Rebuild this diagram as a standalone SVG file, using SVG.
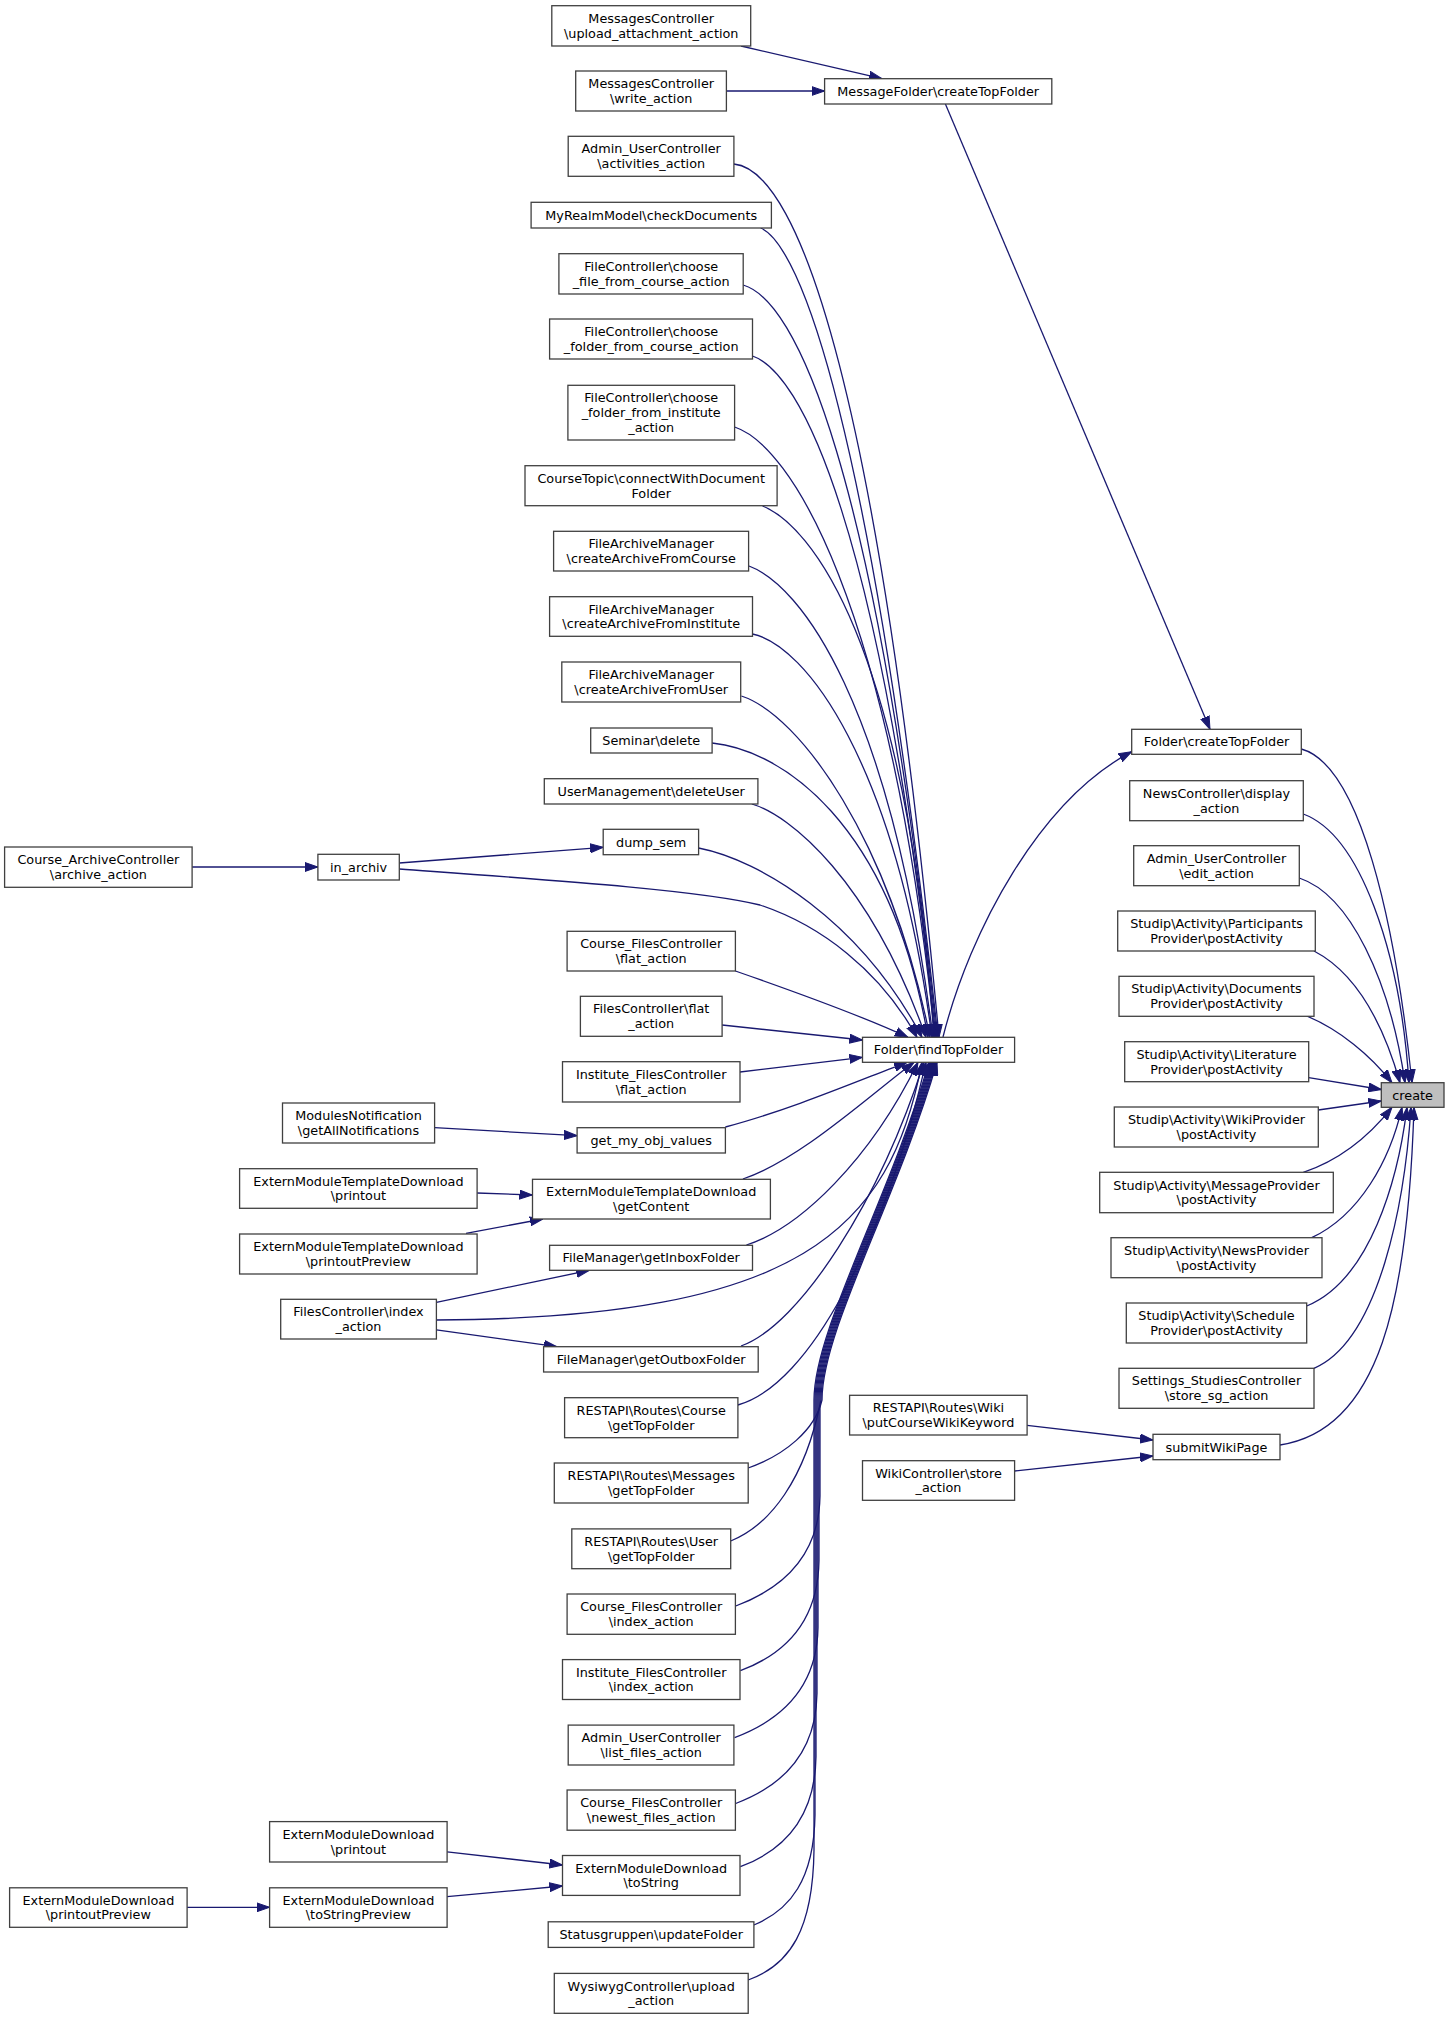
<svg xmlns="http://www.w3.org/2000/svg" width="1449" height="2019" viewBox="0 0 1449 2019">
<style>
.node rect{fill:#ffffff;stroke:#404040;stroke-width:1.3}
.node text{font-family:"DejaVu Sans",sans-serif;font-size:12.8px;text-anchor:middle;fill:#000000}
#n_create rect{fill:#bfbfbf}
.edges path{fill:none;stroke:#191970;stroke-width:1.3;marker-end:url(#arr)}
</style>
<defs>
<marker id="arr" viewBox="0 0 13 10" refX="13" refY="5" markerWidth="13" markerHeight="10" orient="auto" markerUnits="userSpaceOnUse">
<path d="M0,0.5 L13,5 L0,9.5 z" fill="#191970" stroke="#191970" stroke-width="1"/>
</marker>
</defs>
<rect x="0" y="0" width="1449" height="2019" fill="#ffffff"/>
<g class="edges">
<path d="M741,46 L882,78.7"/>
<path d="M726.4,91 L824.6,91"/>
<path d="M945.4,104 L1210,729.3"/>
<path d="M943,1037 C970,930 1040,800 1131.7,751.7"/>
<path d="M1301.3,749 C1360,765 1395,920 1412,1082.7"/>
<path d="M1303.3,814 C1360,835 1400,950 1409,1082.7"/>
<path d="M1299.3,878 C1350,895 1390,980 1405,1082.7"/>
<path d="M1314,951 C1360,975 1385,1030 1400,1082.7"/>
<path d="M1306.7,1016 C1340,1030 1370,1055 1392,1082.7"/>
<path d="M1308.7,1077.7 L1381.3,1089.5"/>
<path d="M1318.3,1110 L1381.3,1101"/>
<path d="M1303.3,1172.3 C1340,1160 1370,1135 1392,1107.3"/>
<path d="M1311.7,1237.7 C1360,1215 1390,1160 1402,1107.3"/>
<path d="M1306.7,1306 C1370,1280 1398,1180 1407,1107.3"/>
<path d="M1314,1368.3 C1380,1340 1405,1200 1411,1107.3"/>
<path d="M1280,1445 C1380,1430 1408,1300 1414,1107.3"/>
<path d="M733.9,164 C800,170 880,400 939,1037.3"/>
<path d="M760.7,228 C800,245 870,420 938,1037.3"/>
<path d="M743.2,285 C795,300 875,460 937,1037.3"/>
<path d="M752.5,356 C800,372 880,520 936,1037.3"/>
<path d="M734.6,427 C790,445 890,600 935,1037.3"/>
<path d="M762.5,506 C810,525 905,640 934,1037.3"/>
<path d="M749,566 C800,585 890,700 933,1037.3"/>
<path d="M752.5,634 C805,645 895,760 932,1037.3"/>
<path d="M741.4,696 C800,715 890,840 930,1037.3"/>
<path d="M712.1,743 C780,750 890,820 928,1037.3"/>
<path d="M751.8,804 C790,815 870,880 926,1037.3"/>
<path d="M698.6,848 C760,860 860,920 922,1037.3"/>
<path d="M399.3,869 C550,880 700,890 760,905 C820,925 880,970 917,1037.3"/>
<path d="M735.4,971 C790,990 860,1015 908,1037.3"/>
<path d="M722.1,1025 L862.5,1040"/>
<path d="M740,1072 L862.5,1057.3"/>
<path d="M725.4,1127 C790,1110 860,1080 907,1062.3"/>
<path d="M742.9,1179 C800,1160 870,1095 914,1062.3"/>
<path d="M746.4,1245 C800,1228 870,1160 918,1062.3"/>
<path d="M436.4,1320 C800,1318 890,1230 922,1062.3"/>
<path d="M741,1346 C800,1325 880,1200 924,1062.3"/>
<path d="M737.9,1405 C810,1385 885,1240 926,1062.3"/>
<path d="M748.2,1468 C785,1455 815,1430 822,1400 C822,1330 897,1200 937,1062.3"/>
<path d="M730.7,1541 C770,1525 805,1480 821,1400 C821,1330 896,1200 936,1062.3"/>
<path d="M735.7,1606 C775.7,1591 819,1561 820,1496 L820,1400 C820,1330 895,1200 935,1062.3"/>
<path d="M740.4,1670.7 C780.4,1655.7 818,1625.7 819,1560.7 L819,1400 C819,1330 894,1200 934,1062.3"/>
<path d="M734.6,1737.6 C774.6,1722.6 817,1692.6 818,1627.6 L818,1400 C818,1330 893,1200 933,1062.3"/>
<path d="M735.7,1803.5 C775.7,1788.5 816,1758.5 817,1693.5 L817,1400 C817,1330 892,1200 932,1062.3"/>
<path d="M740.4,1866.7 C780.4,1851.7 815,1821.7 816,1756.7 L816,1400 C816,1330 891,1200 931,1062.3"/>
<path d="M753.9,1925 C790,1910 814,1880 815,1815 L815,1400 C815,1330 890,1200 930,1062.3"/>
<path d="M748.2,1980 C790,1965 813,1930 814,1850 L814,1400 C814,1330 889,1200 929,1062.3"/>
<path d="M192.1,867 L317.9,867"/>
<path d="M399.3,863 L603.2,847.3"/>
<path d="M434.6,1127.7 L577.1,1135.7"/>
<path d="M477.1,1193 L532.5,1195"/>
<path d="M466,1233.3 L542.9,1219"/>
<path d="M436.4,1302.3 L589.3,1270.3"/>
<path d="M436.4,1329.8 L557,1346.7"/>
<path d="M447.1,1851.8 L562.5,1865"/>
<path d="M447.1,1896.7 L562.5,1886"/>
<path d="M187.1,1907.3 L269.6,1907.3"/>
<path d="M1027.1,1425.3 L1153,1440"/>
<path d="M1014.6,1471 L1153,1456"/>
</g>
<g id="n_upload" class="node"><rect x="551.8" y="5.7" width="198.9" height="40.3"/><text x="651.2" y="23">MessagesController</text><text x="651.2" y="37.7">\upload_attachment_action</text></g>
<g id="n_write" class="node"><rect x="575.7" y="71" width="150.7" height="40"/><text x="651.2" y="88.15">MessagesController</text><text x="651.2" y="102.85">\write_action</text></g>
<g id="n_activities" class="node"><rect x="568.2" y="136.3" width="165.7" height="40"/><text x="651.2" y="153.45">Admin_UserController</text><text x="651.2" y="168.15">\activities_action</text></g>
<g id="n_checkdocs" class="node"><rect x="531.1" y="202.3" width="240.3" height="25.7"/><text x="651.2" y="219.65">MyRealmModel\checkDocuments</text></g>
<g id="n_choosefile" class="node"><rect x="558.9" y="253.7" width="184.3" height="40.3"/><text x="651.2" y="271">FileController\choose</text><text x="651.2" y="285.7">_file_from_course_action</text></g>
<g id="n_choosefoldercourse" class="node"><rect x="549.6" y="319" width="202.9" height="40"/><text x="651.2" y="336.15">FileController\choose</text><text x="651.2" y="350.85">_folder_from_course_action</text></g>
<g id="n_choosefolderinst" class="node"><rect x="567.9" y="385.3" width="166.7" height="54.7"/><text x="651.2" y="402.45">FileController\choose</text><text x="651.2" y="417.15">_folder_from_institute</text><text x="651.2" y="431.85">_action</text></g>
<g id="n_coursetopic" class="node"><rect x="525" y="465.7" width="252.1" height="40"/><text x="651.2" y="482.85">CourseTopic\connectWithDocument</text><text x="651.2" y="497.55">Folder</text></g>
<g id="n_archcourse" class="node"><rect x="553.6" y="531.3" width="195" height="39.7"/><text x="651.2" y="548.3">FileArchiveManager</text><text x="651.2" y="563">\createArchiveFromCourse</text></g>
<g id="n_archinst" class="node"><rect x="549.6" y="596.7" width="202.9" height="39.6"/><text x="651.2" y="613.65">FileArchiveManager</text><text x="651.2" y="628.35">\createArchiveFromInstitute</text></g>
<g id="n_archuser" class="node"><rect x="561.8" y="662" width="178.9" height="40"/><text x="651.2" y="679.15">FileArchiveManager</text><text x="651.2" y="693.85">\createArchiveFromUser</text></g>
<g id="n_semdelete" class="node"><rect x="590.7" y="728" width="121.4" height="25"/><text x="651.2" y="745">Seminar\delete</text></g>
<g id="n_deleteuser" class="node"><rect x="544.3" y="778.7" width="213.6" height="25.3"/><text x="651.2" y="795.85">UserManagement\deleteUser</text></g>
<g id="n_dumpsem" class="node"><rect x="603.2" y="829.3" width="95.4" height="25.4"/><text x="651.2" y="846.5">dump_sem</text></g>
<g id="n_cfflat" class="node"><rect x="567.1" y="931.3" width="168.3" height="39.7"/><text x="651.2" y="948.3">Course_FilesController</text><text x="651.2" y="963">\flat_action</text></g>
<g id="n_fcflat" class="node"><rect x="580.4" y="996.3" width="141.7" height="40"/><text x="651.2" y="1013.45">FilesController\flat</text><text x="651.2" y="1028.15">_action</text></g>
<g id="n_ifflat" class="node"><rect x="562.5" y="1061.7" width="177.5" height="40.3"/><text x="651.2" y="1079">Institute_FilesController</text><text x="651.2" y="1093.7">\flat_action</text></g>
<g id="n_getmyobj" class="node"><rect x="577.1" y="1127.7" width="148.3" height="25.3"/><text x="651.2" y="1144.85">get_my_obj_values</text></g>
<g id="n_getcontent" class="node"><rect x="532.5" y="1179.3" width="237.9" height="39.7"/><text x="651.2" y="1196.3">ExternModuleTemplateDownload</text><text x="651.2" y="1211">\getContent</text></g>
<g id="n_inbox" class="node"><rect x="549.6" y="1245.3" width="202.9" height="25"/><text x="651.2" y="1262.3">FileManager\getInboxFolder</text></g>
<g id="n_outbox" class="node"><rect x="543.6" y="1346.7" width="214.6" height="25.3"/><text x="651.2" y="1363.85">FileManager\getOutboxFolder</text></g>
<g id="n_rcourse" class="node"><rect x="564.6" y="1397.7" width="173.3" height="40"/><text x="651.2" y="1414.85">RESTAPI\Routes\Course</text><text x="651.2" y="1429.55">\getTopFolder</text></g>
<g id="n_rmessages" class="node"><rect x="554.3" y="1463" width="193.9" height="40"/><text x="651.2" y="1480.15">RESTAPI\Routes\Messages</text><text x="651.2" y="1494.85">\getTopFolder</text></g>
<g id="n_ruser" class="node"><rect x="571.8" y="1528.9" width="158.9" height="39.8"/><text x="651.2" y="1545.95">RESTAPI\Routes\User</text><text x="651.2" y="1560.65">\getTopFolder</text></g>
<g id="n_cfindex" class="node"><rect x="567.1" y="1594" width="168.3" height="40.3"/><text x="651.2" y="1611.3">Course_FilesController</text><text x="651.2" y="1626">\index_action</text></g>
<g id="n_ifindex" class="node"><rect x="562.5" y="1659.6" width="177.5" height="39.9"/><text x="651.2" y="1676.7">Institute_FilesController</text><text x="651.2" y="1691.4">\index_action</text></g>
<g id="n_listfiles" class="node"><rect x="568.2" y="1725.1" width="165.7" height="39.9"/><text x="651.2" y="1742.2">Admin_UserController</text><text x="651.2" y="1756.9">\list_files_action</text></g>
<g id="n_newest" class="node"><rect x="567.1" y="1790" width="168.3" height="40.2"/><text x="651.2" y="1807.25">Course_FilesController</text><text x="651.2" y="1821.95">\newest_files_action</text></g>
<g id="n_tostring" class="node"><rect x="562.5" y="1855.5" width="177.5" height="39.9"/><text x="651.2" y="1872.6">ExternModuleDownload</text><text x="651.2" y="1887.3">\toString</text></g>
<g id="n_updatefolder" class="node"><rect x="548.2" y="1921.8" width="205.7" height="25.6"/><text x="651.2" y="1939.1">Statusgruppen\updateFolder</text></g>
<g id="n_wysiwyg" class="node"><rect x="554.3" y="1973.4" width="193.9" height="39.9"/><text x="651.2" y="1990.5">WysiwygController\upload</text><text x="651.2" y="2005.2">_action</text></g>
<g id="n_msgfolder" class="node"><rect x="824.6" y="78.7" width="227.2" height="25.3"/><text x="938.2" y="95.85">MessageFolder\createTopFolder</text></g>
<g id="n_findtop" class="node"><rect x="862.5" y="1037.3" width="152.1" height="25"/><text x="938.5" y="1054.3">Folder\findTopFolder</text></g>
<g id="n_wiki" class="node"><rect x="849.6" y="1395.3" width="177.5" height="39.7"/><text x="938.4" y="1412.3">RESTAPI\Routes\Wiki</text><text x="938.4" y="1427">\putCourseWikiKeyword</text></g>
<g id="n_wikictrl" class="node"><rect x="862.5" y="1460.7" width="152.1" height="39.6"/><text x="938.5" y="1477.65">WikiController\store</text><text x="938.5" y="1492.35">_action</text></g>
<g id="n_foldertop" class="node"><rect x="1131.7" y="729.3" width="169.6" height="25"/><text x="1216.5" y="746.3">Folder\createTopFolder</text></g>
<g id="n_news" class="node"><rect x="1129.7" y="780.7" width="173.6" height="40"/><text x="1216.5" y="797.85">NewsController\display</text><text x="1216.5" y="812.55">_action</text></g>
<g id="n_adminedit" class="node"><rect x="1133.7" y="845.7" width="165.6" height="40"/><text x="1216.5" y="862.85">Admin_UserController</text><text x="1216.5" y="877.55">\edit_action</text></g>
<g id="n_participants" class="node"><rect x="1117.7" y="911" width="197.6" height="40"/><text x="1216.5" y="928.15">Studip\Activity\Participants</text><text x="1216.5" y="942.85">Provider\postActivity</text></g>
<g id="n_documents" class="node"><rect x="1119" y="976.3" width="195" height="40"/><text x="1216.5" y="993.45">Studip\Activity\Documents</text><text x="1216.5" y="1008.15">Provider\postActivity</text></g>
<g id="n_literature" class="node"><rect x="1124.7" y="1041.7" width="184" height="40"/><text x="1216.5" y="1058.85">Studip\Activity\Literature</text><text x="1216.5" y="1073.55">Provider\postActivity</text></g>
<g id="n_wikiprov" class="node"><rect x="1114.3" y="1107" width="204" height="40"/><text x="1216.5" y="1124.15">Studip\Activity\WikiProvider</text><text x="1216.5" y="1138.85">\postActivity</text></g>
<g id="n_msgprov" class="node"><rect x="1099.7" y="1172.3" width="233.6" height="40.4"/><text x="1216.5" y="1189.65">Studip\Activity\MessageProvider</text><text x="1216.5" y="1204.35">\postActivity</text></g>
<g id="n_newsprov" class="node"><rect x="1111" y="1237.7" width="211" height="40"/><text x="1216.5" y="1254.85">Studip\Activity\NewsProvider</text><text x="1216.5" y="1269.55">\postActivity</text></g>
<g id="n_schedule" class="node"><rect x="1126.3" y="1303" width="180.4" height="40"/><text x="1216.5" y="1320.15">Studip\Activity\Schedule</text><text x="1216.5" y="1334.85">Provider\postActivity</text></g>
<g id="n_settings" class="node"><rect x="1119" y="1368.3" width="195" height="40"/><text x="1216.5" y="1385.45">Settings_StudiesController</text><text x="1216.5" y="1400.15">\store_sg_action</text></g>
<g id="n_submit" class="node"><rect x="1153" y="1434.3" width="127" height="25.4"/><text x="1216.5" y="1451.5">submitWikiPage</text></g>
<g id="n_create" class="node"><rect x="1381.3" y="1082.7" width="62.7" height="24.6"/><text x="1412.6" y="1099.5">create</text></g>
<g id="n_inarchiv" class="node"><rect x="317.9" y="854.3" width="81.4" height="25.7"/><text x="358.6" y="871.65">in_archiv</text></g>
<g id="n_modnotif" class="node"><rect x="282.5" y="1103" width="152.1" height="40"/><text x="358.5" y="1120.15">ModulesNotification</text><text x="358.5" y="1134.85">\getAllNotifications</text></g>
<g id="n_emtdprintout" class="node"><rect x="239.6" y="1168.7" width="237.5" height="39.6"/><text x="358.4" y="1185.65">ExternModuleTemplateDownload</text><text x="358.4" y="1200.35">\printout</text></g>
<g id="n_emtdpreview" class="node"><rect x="239.6" y="1234" width="237.5" height="40"/><text x="358.4" y="1251.15">ExternModuleTemplateDownload</text><text x="358.4" y="1265.85">\printoutPreview</text></g>
<g id="n_fcindex" class="node"><rect x="280.7" y="1299.3" width="155.7" height="39.7"/><text x="358.5" y="1316.3">FilesController\index</text><text x="358.5" y="1331">_action</text></g>
<g id="n_emdprintout" class="node"><rect x="269.6" y="1821.6" width="177.5" height="40.4"/><text x="358.4" y="1838.95">ExternModuleDownload</text><text x="358.4" y="1853.65">\printout</text></g>
<g id="n_tostringpreview" class="node"><rect x="269.6" y="1887.8" width="177.5" height="39.5"/><text x="358.4" y="1904.7">ExternModuleDownload</text><text x="358.4" y="1919.4">\toStringPreview</text></g>
<g id="n_coursearchive" class="node"><rect x="4.6" y="847" width="187.5" height="40.3"/><text x="98.4" y="864.3">Course_ArchiveController</text><text x="98.4" y="879">\archive_action</text></g>
<g id="n_emdpreview" class="node"><rect x="9.6" y="1887.8" width="177.5" height="39.5"/><text x="98.4" y="1904.7">ExternModuleDownload</text><text x="98.4" y="1919.4">\printoutPreview</text></g>
</svg>
